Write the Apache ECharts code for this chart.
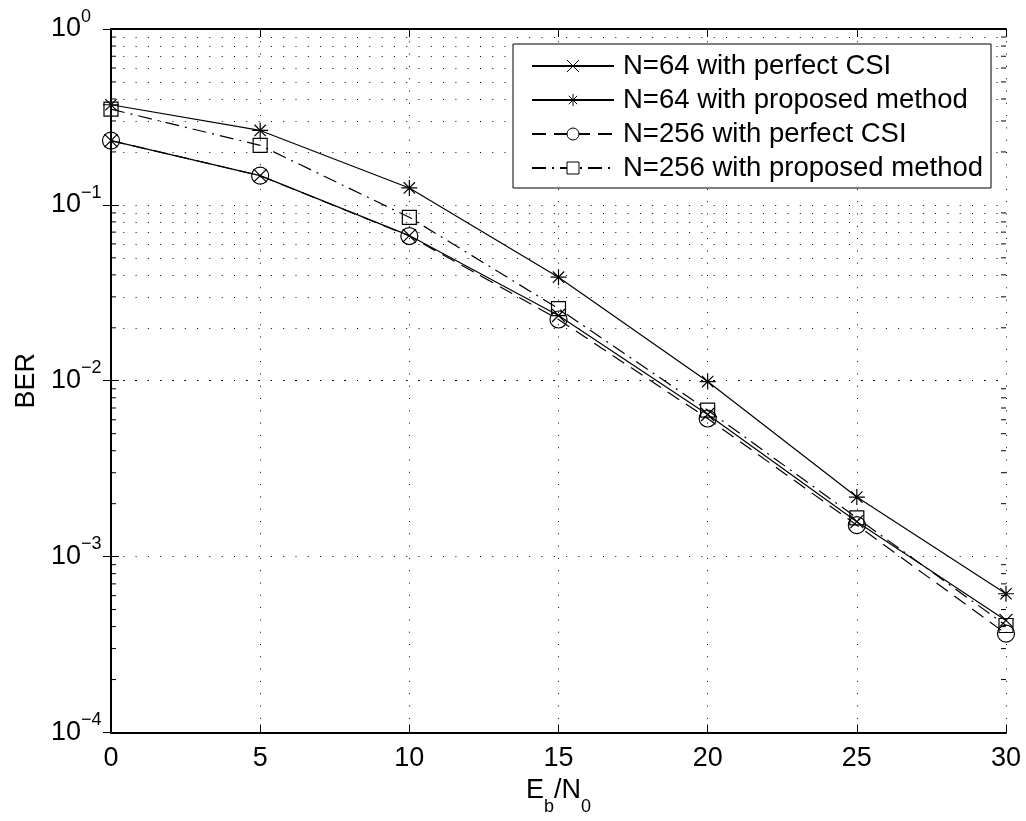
<!DOCTYPE html>
<html>
<head>
<meta charset="utf-8">
<script src="https://cdn.jsdelivr.net/npm/echarts@6/dist/echarts.min.js"></script>
<style>
html,body{margin:0;padding:0;background:#fff;}
#chart{width:1026px;height:821px;}
</style>
</head>
<body>
<div id="chart"></div>
<script>
// ---- data ----
const xValues = [0, 5, 10, 15, 20, 25, 30];
const n64Perfect  = [0.232, 0.1466, 0.0669, 0.0235, 0.00643, 0.00158, 0.000434];
const n64Proposed = [0.371, 0.265, 0.1248, 0.0388, 0.00989, 0.00218, 0.000615];
const n256Perfect = [0.232, 0.1466, 0.0665, 0.0223, 0.0061, 0.00151, 0.000365];
const n256Proposed = [0.350, 0.218, 0.085, 0.0257, 0.0068, 0.00166, 0.000406];
const seriesNames = ['N=64 with perfect CSI', 'N=64 with proposed method', 'N=256 with perfect CSI', 'N=256 with proposed method'];
const xAxisTitle = ['E', 'b', '/N', '0'];
const yAxisTitle = 'BER';
const xMin = 0, xMax = 30, xStep = 5;
const yMin = 1e-4, yMax = 1;
const decades = [1e-4, 1e-3, 1e-2, 1e-1];
const minorMultipliers = [2, 3, 4, 5, 6, 7, 8, 9];

const FF = '"Liberation Sans", Arial, Helvetica, sans-serif';
const minorValues = [];
decades.forEach(d => minorMultipliers.forEach(m => minorValues.push(+(d * m).toPrecision(3))));

function pairs(arr) { return xValues.map((x, i) => [x, arr[i]]); }

const crossPath = 'path://M0,0L10,10M10,0L0,10';
const starPath = 'path://M5,0L5,10M0,5L10,5M1.46,1.46L8.54,8.54M8.54,1.46L1.46,8.54';
const dotted = [1, 11.3];

function lineSeries(name, arr, symbol, size, dash, fill) {
  return {
    type: 'line', name: name, data: pairs(arr), z: 3,
    symbol: symbol, symbolSize: size, showAllSymbol: true, clip: false,
    lineStyle: { color: '#000', width: 1.2, type: dash },
    itemStyle: { color: fill, borderColor: '#000', borderWidth: 1.2 },
    emphasis: { disabled: true }, silent: true
  };
}

const axisLineStyle = { show: true, lineStyle: { color: '#000', width: 2 } };

const option = {
  animation: false,
  backgroundColor: '#fff',
  grid: { left: 111, right: 20, top: 29, bottom: 87, containLabel: false },
  legend: {
    data: seriesNames,
    orient: 'vertical', left: 513, top: 44,
    itemWidth: 82, itemHeight: 15, itemGap: 6,
    padding: [8, 8, 6, 18],
    backgroundColor: '#fff', borderColor: '#000', borderWidth: 1, borderRadius: 0,
    itemStyle: { color: '#fff', borderColor: '#000', borderWidth: 1 },
    textStyle: { color: '#000', fontSize: 27.5, fontFamily: FF, padding: [0, 0, 0, 4] },
    selectedMode: false
  },
  xAxis: [{
    type: 'value', min: xMin, max: xMax, interval: xStep, position: 'bottom',
    axisLine: axisLineStyle,
    axisTick: { inside: true, length: 8, lineStyle: { color: '#000', width: 1 } },
    axisLabel: { color: '#000', fontSize: 27, fontFamily: FF, margin: 13 },
    splitLine: { show: true, lineStyle: { color: '#000', width: 1, type: dotted } },
    name: '{n|' + xAxisTitle[0] + '}{s|' + xAxisTitle[1] + '}{n|' + xAxisTitle[2] + '}{s|' + xAxisTitle[3] + '}',
    nameLocation: 'middle', nameGap: 50,
    nameTextStyle: {
      color: '#000', fontFamily: FF,
      rich: {
        n: { fontSize: 27, lineHeight: 27, fontFamily: FF, color: '#000', padding: [0, 0, 11.6, 0] },
        s: { fontSize: 18, lineHeight: 18, fontFamily: FF, color: '#000', padding: [20.6, 0, 0, 0] }
      }
    }
  }, {
    type: 'value', min: xMin, max: xMax, interval: xStep, position: 'top',
    axisLine: axisLineStyle,
    axisTick: { inside: true, length: 8, lineStyle: { color: '#000', width: 1 } },
    axisLabel: { show: false },
    splitLine: { show: false }
  }],
  yAxis: [{
    type: 'log', logBase: 10, min: yMin, max: yMax, position: 'left',
    axisLine: axisLineStyle,
    axisTick: { inside: true, length: 8, lineStyle: { color: '#000', width: 1 } },
    axisLabel: {
      color: '#000', fontFamily: FF, margin: 60, align: 'left',
      formatter: function (v) {
        const e = Math.round(Math.log10(v));
        return '{b|10}{s|' + (e < 0 ? '\u2212' + (-e) : String(e)) + '}';
      },
      rich: {
        b: { fontSize: 27, lineHeight: 27, fontFamily: FF, color: '#000', padding: [10, 0, 10, 0] },
        s: { fontSize: 18, lineHeight: 18, fontFamily: FF, color: '#000', padding: [2.2, 0, 26.8, 0] }
      }
    },
    splitLine: { show: true, lineStyle: { color: '#000', width: 1, type: dotted } },
    name: yAxisTitle, nameLocation: 'middle', nameGap: 58, nameRotate: 90,
    nameTextStyle: { color: '#000', fontSize: 27, fontFamily: FF }
  }, {
    type: 'log', logBase: 10, min: yMin, max: yMax, position: 'right',
    axisLine: axisLineStyle,
    axisTick: { inside: true, length: 8, lineStyle: { color: '#000', width: 1 } },
    axisLabel: { show: false },
    splitLine: { show: false }
  }],
  series: [
    {
      type: 'custom', name: 'minorTicks', silent: true, z: 2,
      coordinateSystem: 'cartesian2d', xAxisIndex: 0, yAxisIndex: 0,
      data: minorValues.map(v => [xMin, v]),
      encode: { x: 0, y: 1 },
      renderItem: function (params, api) {
        const v = api.value(1);
        const l = api.coord([xMin, v]);
        const r = api.coord([xMax, v]);
        const st = { stroke: '#000', lineWidth: 1 };
        return {
          type: 'group', children: [
            { type: 'line', shape: { x1: l[0], y1: l[1], x2: l[0] + 5, y2: l[1] }, style: st },
            { type: 'line', shape: { x1: r[0] - 5, y1: r[1], x2: r[0], y2: r[1] }, style: st }
          ]
        };
      },
      markLine: {
        silent: true, symbol: ['none', 'none'], z: 1,
        label: { show: false },
        lineStyle: { color: '#000', width: 1, type: dotted },
        emphasis: { disabled: true },
        data: minorValues.map(v => ({ yAxis: v }))
      }
    },
    lineSeries(seriesNames[0], n64Perfect, crossPath, 13, 'solid', '#000'),
    lineSeries(seriesNames[1], n64Proposed, starPath, 16, 'solid', '#000'),
    lineSeries(seriesNames[2], n256Perfect, 'circle', 17, [14, 8], 'none'),
    lineSeries(seriesNames[3], n256Proposed, 'rect', 14, [14, 6, 2, 6], 'none')
  ]
};

const chart = echarts.init(document.getElementById('chart'), null, { renderer: 'canvas' });
chart.setOption(option);
</script>
</body>
</html>
